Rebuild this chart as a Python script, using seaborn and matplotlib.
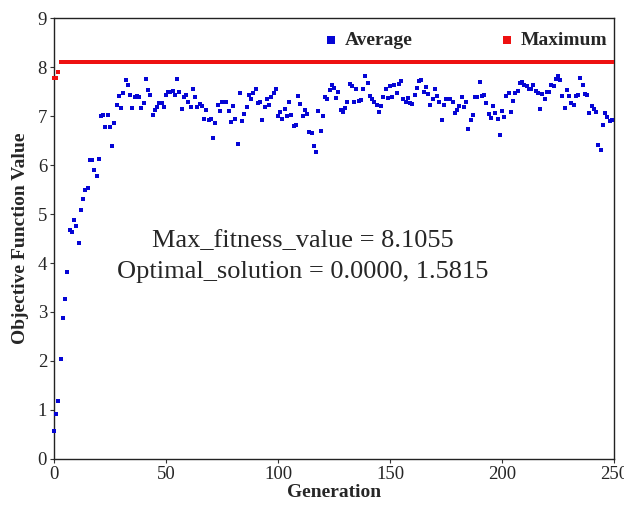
import numpy as np
import pandas as pd
import matplotlib
matplotlib.use("Agg")
import matplotlib.pyplot as plt
import seaborn as sns

# ---- data ----
generation = list(range(250))

average = [
    0.58, 0.91, 1.19, 2.05, 2.88, 3.27, 3.81, 4.68, 4.64, 4.88,
    4.76, 4.40, 5.09, 5.30, 5.50, 5.53, 6.10, 6.10, 5.90, 5.78,
    6.12, 7.00, 7.03, 6.77, 7.03, 6.78, 6.38, 6.86, 7.23, 7.40,
    7.17, 7.48, 7.73, 7.64, 7.43, 7.17, 7.38, 7.40, 7.38, 7.16,
    7.27, 7.75, 7.53, 7.42, 7.03, 7.12, 7.19, 7.27, 7.27, 7.19,
    7.42, 7.50, 7.50, 7.52, 7.42, 7.75,
    7.49, 7.14, 7.39, 7.43, 7.28, 7.19, 7.55, 7.39, 7.19, 7.25,
    7.21, 6.93, 7.13, 6.92, 6.93, 6.56, 6.85, 7.23, 7.11, 7.28,
    7.29, 7.29, 7.11, 6.87, 7.21, 6.93, 6.43, 7.46, 6.90, 7.04,
    7.19, 7.42, 7.35, 7.48, 7.56, 7.26, 7.28, 6.92, 7.19, 7.35,
    7.22, 7.38, 7.47, 7.55, 7.01, 7.09, 6.93, 7.14, 7.00, 7.28,
    7.02, 6.80, 6.82, 7.40, 7.24, 7.00, 7.13, 7.04, 6.67, 6.65,
    6.39, 6.26, 7.11,
    6.70, 7.00, 7.38, 7.35, 7.54, 7.63, 7.57, 7.37, 7.49, 7.13,
    7.09, 7.16, 7.28, 7.65, 7.61, 7.28, 7.56, 7.31, 7.32, 7.56,
    7.82, 7.67, 7.40, 7.35, 7.28, 7.23, 7.09, 7.21, 7.38, 7.56,
    7.36, 7.61, 7.38, 7.64, 7.47, 7.65, 7.71, 7.35, 7.29, 7.37,
    7.26, 7.25, 7.43, 7.58, 7.71, 7.74, 7.50, 7.59, 7.45, 7.22,
    7.35, 7.56, 7.40, 7.28, 6.91, 7.23, 7.35, 7.35, 7.35, 7.28,
    7.06, 7.13, 7.21,
    7.39, 7.19, 7.28, 6.74, 6.91, 7.02, 7.39, 7.39, 7.69, 7.41,
    7.43, 7.26, 7.04, 6.95, 7.21, 7.06, 6.93, 6.61, 7.11, 6.99,
    7.41, 7.46, 7.09, 7.31, 7.47, 7.52, 7.67, 7.69, 7.63, 7.61,
    7.56, 7.55, 7.63, 7.52, 7.48, 7.15, 7.45, 7.35, 7.50, 7.49,
    7.64, 7.61, 7.76, 7.82, 7.74, 7.41, 7.16, 7.54, 7.41, 7.26,
    7.23, 7.41, 7.43, 7.78, 7.63, 7.44, 7.43, 7.07, 7.21, 7.14,
    7.09, 6.41, 6.30, 6.81, 7.06, 6.99, 6.89, 6.92,
]

maximum = [7.77, 7.78, 7.90] + [8.095] * 10 + [8.1055] * 237

x_ticks = [0, 50, 100, 150, 200, 250]
y_ticks = [0, 1, 2, 3, 4, 5, 6, 7, 8, 9]
annotation_lines = ["Max_fitness_value = 8.1055",
                    "Optimal_solution = 0.0000, 1.5815"]

df = pd.DataFrame({"Generation": generation,
                   "Average": average,
                   "Maximum": maximum})

# ---- styling ----
sns.set_style("white")
plt.rcParams["font.family"] = ["Liberation Serif", "DejaVu Serif"]

fig = plt.figure(figsize=(6.24, 5.08), dpi=100)
ax = fig.add_axes([0.0865, 0.0965, 0.8975, 0.868])

sns.scatterplot(data=df, x="Generation", y="Average", ax=ax,
                color="#0505d5", marker="s", s=10, linewidth=0,
                label="Average", clip_on=False, zorder=3)
sns.scatterplot(data=df, x="Generation", y="Maximum", ax=ax,
                color="#ee1111", marker="s", s=10, linewidth=0,
                label="Maximum", clip_on=False, zorder=3)

ax.set_xlim(0, 250)
ax.set_ylim(0, 9)
ax.set_xticks(x_ticks)
ax.set_yticks(y_ticks)
ax.tick_params(axis="both", labelsize=13.5, direction="out",
               length=3, width=0.8, color="#333333", pad=2,
               bottom=True, left=True)

for sp in ax.spines.values():
    sp.set_color("#222222")
    sp.set_linewidth(1.0)

ax.set_xlabel("Generation", fontsize=14, fontweight="bold", labelpad=1)
ax.set_ylabel("Objective Function Value", fontsize=14, fontweight="bold",
              labelpad=6)

ax.text(111, 4.45, annotation_lines[0], ha="center", va="center",
        fontsize=19)
ax.text(111, 3.82, annotation_lines[1], ha="center", va="center",
        fontsize=19)

leg = ax.legend(loc="upper right", bbox_to_anchor=(1.02, 1.01), ncol=2,
                frameon=False, columnspacing=4.4, handletextpad=0.2,
                markerscale=1.6, handlelength=1.0,
                prop={"family": "Liberation Serif", "weight": "bold",
                      "size": 14})

fig.savefig("out.png", dpi=100)
